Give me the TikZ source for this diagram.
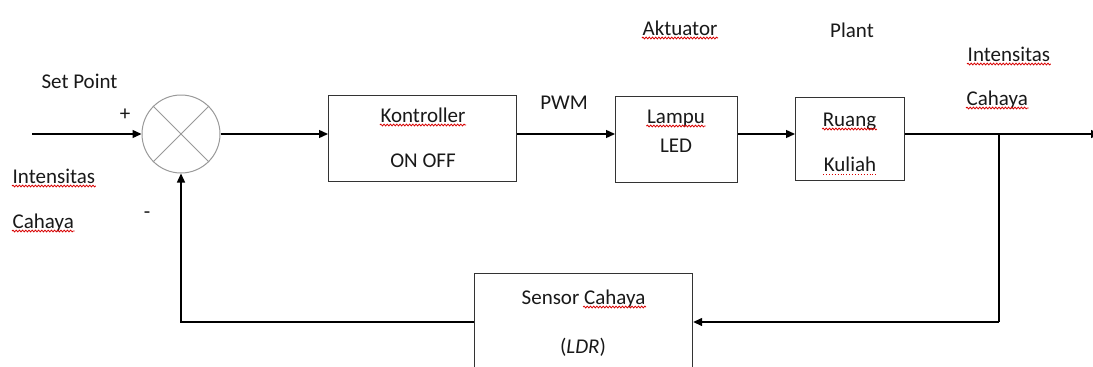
\documentclass[tikz,border=0pt]{standalone}
\usepackage{fontspec}
\setmainfont{Carlito}
\usetikzlibrary{arrows.meta,decorations.pathmorphing}
\begin{document}
\begin{tikzpicture}[x=1pt,y=-1pt,
 line width=1.4pt,
 arr/.style={-{Triangle[length=9pt,width=8pt]}},
 blk/.style={draw=black!80,line width=1.2pt,inner sep=0,anchor=north west},
 txt/.style={inner sep=0,anchor=base,text=black!90,font=\fontsize{21}{25}\selectfont},
 txtw/.style={txt,anchor=base west},
 wavy/.style={draw=red!85!black,line width=0.8pt,decorate,decoration={snake,amplitude=0.9pt,segment length=3.2pt}},
 dotl/.style={draw=red!85!black,line width=0.9pt,dotted},
]
\clip (0,0) rectangle (1093,367);
\fill[white] (0,0) rectangle (1093,367);
% blocks
\node[blk,minimum width=188pt,minimum height=86pt] (K) at (328,95) {};
\node[blk,minimum width=122pt,minimum height=86pt] (L) at (615,96) {};
\node[blk,minimum width=109pt,minimum height=83pt] (R) at (795,97) {};
\node[blk,minimum width=218pt,minimum height=130pt] (S) at (474,273) {};
\node[draw=black!40,line width=1pt,circle,minimum size=78pt,inner sep=0] (sum) at (181,134) {};
\draw[black!40,line width=1pt] (sum.north west) -- (sum.south east) (sum.north east) -- (sum.south west);
% coordinates
\coordinate (in) at (32,134);
\coordinate (out) at (1100,134);
\coordinate (br) at (999,134);
\coordinate (fb) at (999,322);
% connectors
\draw[arr] (in) -- (sum.west);
\draw[arr] (sum.east) -- (sum.east -| K.west);
\draw[arr] (sum.east -| K.east) -- (sum.east -| L.west);
\draw[arr] (sum.east -| L.east) -- (sum.east -| R.west);
\draw[arr] (sum.east -| R.east) -- (out);
\draw (br) -- (fb);
\draw[arr] (fb) -- (fb -| S.east);
\draw[arr] (fb -| S.west) -| (sum.south);
% texts
\node[txt] (sp) at (79.5,88) {Set Point};
\node[txt] (plus) at (125,120) {+};
\node[txt] (minus) at (147,218) {-};
\node[txtw] (in1) at (12,183) {Intensitas};
\node[txtw] (in2) at (12,228) {Cahaya};
\node[txt] (k1) at (423,122) {Kontroller};
\node[txt] (k2) at (423,167) {ON OFF};
\node[txt] (pwm) at (564,109) {PWM};
\node[txt] (akt) at (680,35) {Aktuator};
\node[txt] (l1) at (676,123) {Lampu};
\node[txt] (l2) at (676,152) {LED};
\node[txt] (pl) at (852,37) {Plant};
\node[txt] (r1) at (849.5,126) {Ruang};
\node[txt] (r2) at (850,171) {Kuliah};
\node[txtw] (o1) at (967,61) {Intensitas};
\node[txtw] (o2) at (966,105) {Cahaya};
\node[txt] (s1) at (583.5,304) {Sensor Cahaya};
\node[txt] (s2) at (583,353) {(\textit{LDR})};
% spell-check underlines
\foreach \n in {in1,in2,k1,akt,l1,r1,o1,o2}
  \draw[wavy] ([yshift=-3pt]\n.base west) -- ([yshift=-3pt]\n.base east);
\draw[dotl] ([yshift=-3pt]r2.base west) -- ([yshift=-3pt]r2.base east);
\draw[wavy] ([shift={(-63pt,-3pt)}]s1.base east) -- ([yshift=-3pt]s1.base east);
\end{tikzpicture}
\end{document}
